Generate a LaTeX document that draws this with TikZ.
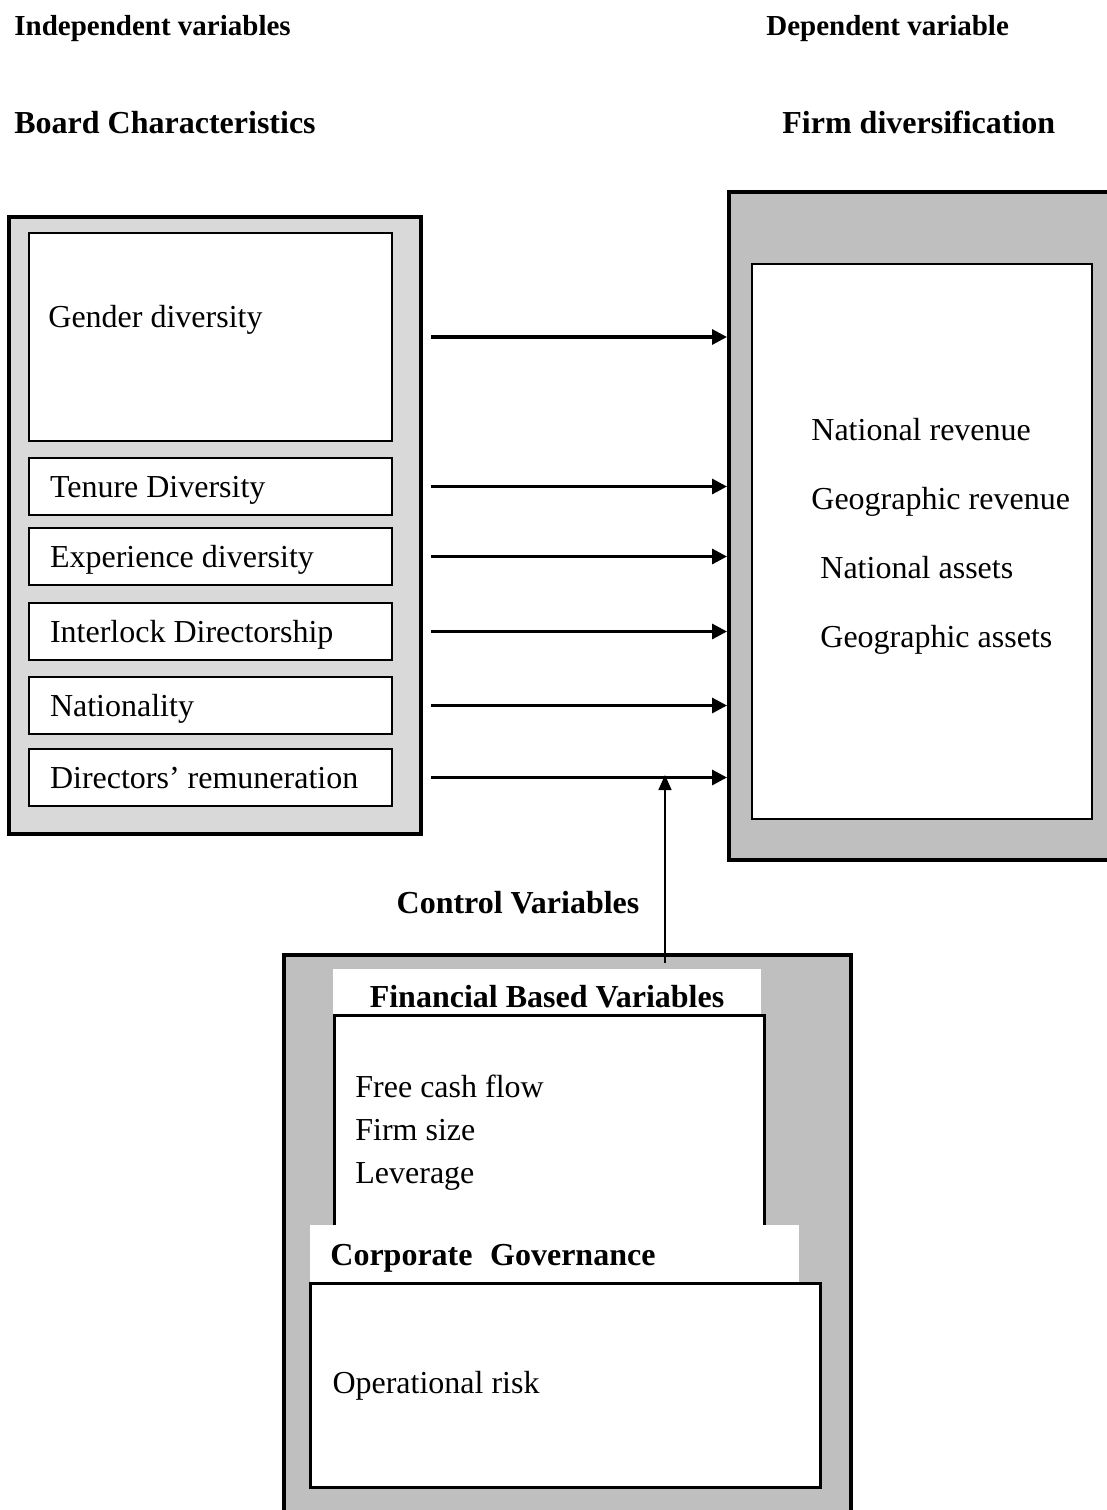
\documentclass[tikz,border=0pt]{standalone}
\usepackage{fontspec}
\setmainfont{Liberation Serif}
\usetikzlibrary{arrows.meta,positioning}

\begin{document}
\begin{tikzpicture}[x=0.5pt,y=-0.5pt,>={Triangle[length=7.5pt,width=7.5pt]},node distance=8pt]
  \tikzstyle{outer}=[draw,line width=2pt,anchor=north west,inner sep=0pt]
  \tikzstyle{item}=[draw,line width=1pt,fill=white,minimum width=181.5pt,minimum height=28.5pt,text width=160.5pt,inner xsep=10.5pt,align=flush left,text height=11pt,text depth=0pt,font=\fontsize{16}{19}\selectfont]
  \tikzstyle{txt}=[inner sep=0pt,anchor=base west,font=\fontsize{16}{19}\selectfont]
  \tikzstyle{head}=[inner sep=0pt,anchor=base west,font=\fontsize{16}{19}\selectfont\bfseries]
  \tikzstyle{band}=[fill=white,inner sep=0pt,font=\fontsize{16}{19}\selectfont\bfseries]
  \tikzstyle{flow}=[->,line width=1.6pt]
  \clip (0,0) rectangle (1107,1510);

  % headings
  \node[head,font=\fontsize{14.5}{17}\selectfont\bfseries] (indep) at (14,35) {Independent variables};
  \node[head,font=\fontsize{14.5}{17}\selectfont\bfseries] (dep) at (766,35) {Dependent variable};
  \node[head] (boardlbl) at (14,133) {Board Characteristics};
  \node[head] (firmlbl) at (782,133) {Firm diversification};

  % board characteristics
  \node[outer,fill=black!15,minimum width=206pt,minimum height=308.5pt] (board) at (7,215) {};
  \node[item,anchor=north west,minimum height=104pt] (gender) at (28,232) {};
  \node[txt] (genderlbl) at (48,327) {Gender diversity};
  \node[item,below=7.5pt of gender] (tenure) {Tenure Diversity};
  \node[item,below=5.5pt of tenure] (experience) {Experience diversity};
  \node[item,below=8pt of experience] (interlock) {Interlock Directorship};
  \node[item,below=7.5pt of interlock] (nationality) {Nationality};
  \node[item,below=6.5pt of nationality] (remuneration) {Directors’ remuneration};

  % firm diversification
  \node[outer,fill=black!25,minimum width=194pt,minimum height=334pt] (firm) at (727,190) {};
  \node[draw,line width=1pt,fill=white,anchor=north west,minimum width=170pt,minimum height=277.5pt] (firmin) at (751,263) {};
  \node[txt] (natrev) at (811,440) {National revenue};
  \node[txt] (georev) at (811,509) {Geographic revenue};
  \node[txt] (natass) at (820,578) {National assets};
  \node[txt] (geoass) at (820,647) {Geographic assets};

  % arrows
  \coordinate (start) at ([xshift=4pt]board.east);
  \foreach \src in {gender,tenure,experience,interlock,nationality,remuneration}
    \draw[flow] (start |- \src) -- (firm.west |- \src);

  % control variables
  \node[head,anchor=base] (ctrllbl) at (518,913) {Control Variables};
  \node[outer,fill=black!25,minimum width=283.5pt,minimum height=290pt] (control) at (282,953) {};
  \node[band,minimum width=214pt,minimum height=28pt] (finhead) at (547,997) {Financial Based Variables};
  \node[draw,line width=1.5pt,fill=white,anchor=north west,minimum width=215pt,minimum height=106pt] (finbox) at (333,1014) {};
  \node[txt,anchor=north west,align=flush left,font=\fontsize{16}{21.5}\selectfont] (finlist) at (355,1075) {Free cash flow\\Firm size\\Leverage};
  \node[band,anchor=north west,minimum width=244.5pt,minimum height=32.5pt,text width=224.5pt,inner xsep=10pt,align=flush left] (cghead) at (310,1225) {Corporate\hspace{0.55em}Governance};
  \node[draw,line width=1.5pt,fill=white,anchor=north west,minimum width=255pt,minimum height=102pt,text width=233pt,inner xsep=11pt,align=flush left,font=\fontsize{16}{19}\selectfont] (cgbox) at (309,1282) {Operational risk};

  % control arrow
  \coordinate (meet) at (665,775);
  \coordinate (ctrltop) at ([yshift=-5pt]control.north);
  \draw[line width=0.8pt,-{Triangle[length=7.5pt,width=6.5pt]}] (ctrltop -| meet) -- (meet);
\end{tikzpicture}
\end{document}
